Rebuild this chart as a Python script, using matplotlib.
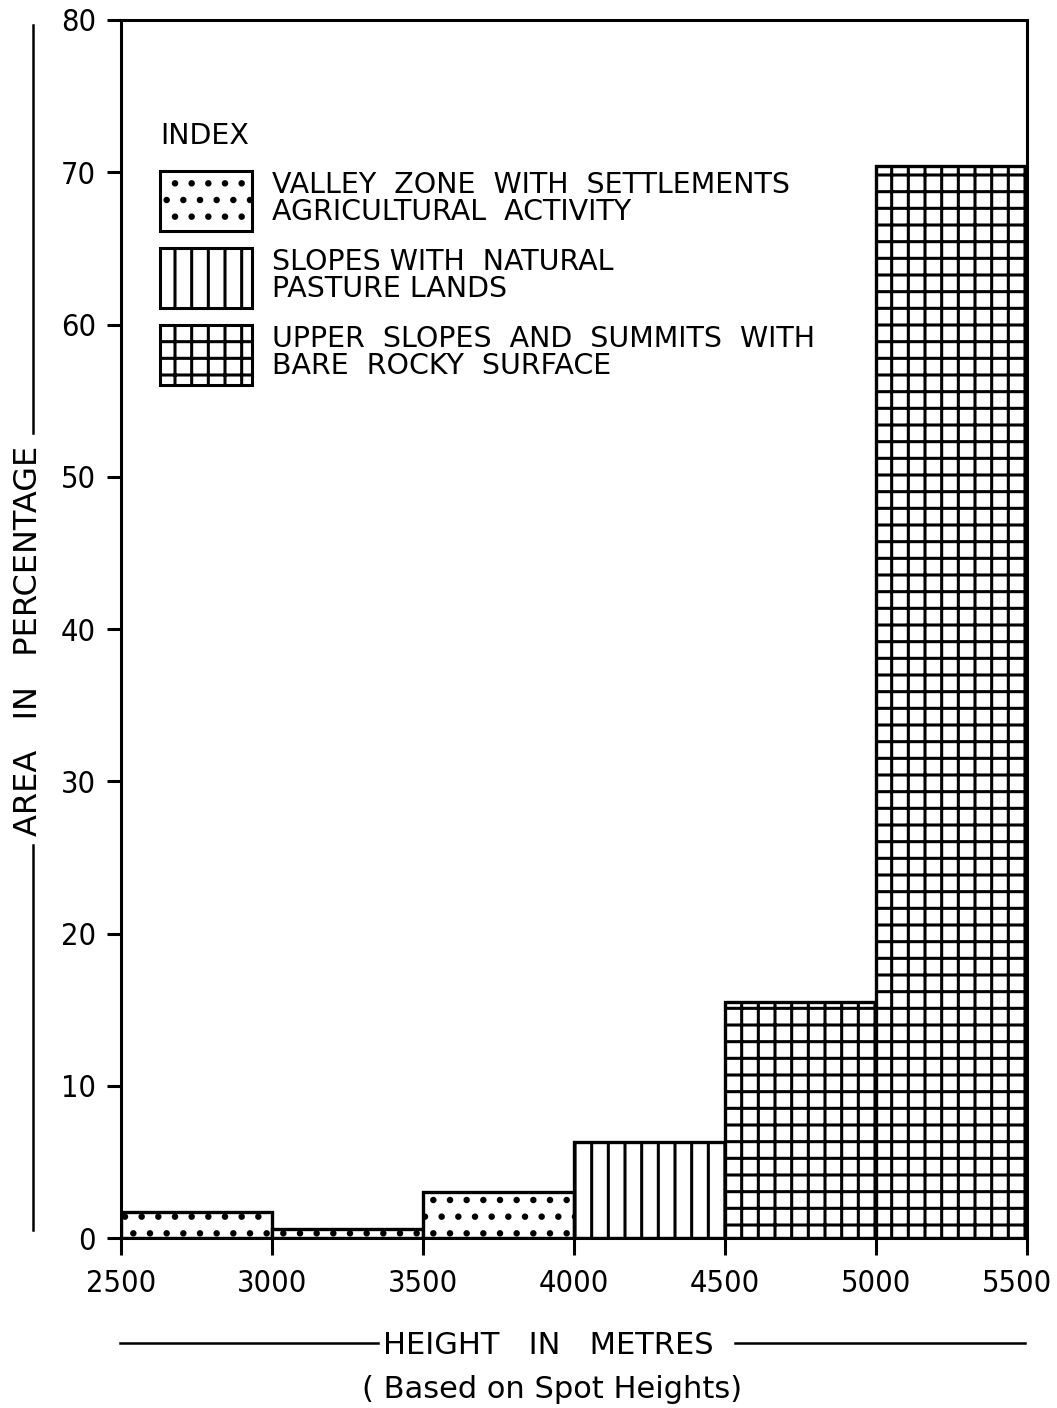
import numpy as np
import matplotlib.pyplot as plt
from matplotlib.patches import Patch
from matplotlib.lines import Line2D
import matplotlib.transforms as mtransforms

# height classes (left edge of each 500 m band) and area share in percent
band_start = [2500, 3000, 3500, 4000, 4500, 5000]
area_pct = [1.7, 0.6, 3.0, 6.3, 15.5, 70.4]
zone = ["valley", "valley", "valley", "slope", "upper", "upper"]

zone_labels = {
    "valley": "VALLEY  ZONE  WITH  SETTLEMENTS\nAGRICULTURAL  ACTIVITY",
    "slope": "SLOPES WITH  NATURAL\nPASTURE LANDS",
    "upper": "UPPER  SLOPES  AND  SUMMITS  WITH\nBARE  ROCKY  SURFACE",
}
zone_hatch = {"valley": ".", "slope": "|", "upper": "+"}

xticks = [2500, 3000, 3500, 4000, 4500, 5000, 5500]
yticks = [0, 10, 20, 30, 40, 50, 60, 70, 80]

plt.rcParams["font.family"] = ["DejaVu Sans"]
plt.rcParams["hatch.linewidth"] = 2.2
plt.rcParams["hatch.color"] = "black"

fig = plt.figure(figsize=(10.57, 14.08), dpi=100)
ax = fig.add_axes([0.1145, 0.1207, 0.857, 0.8651])

for x, h, z in zip(band_start, area_pct, zone):
    ax.bar(x, h, width=500, align="edge", facecolor="white",
           edgecolor="black", linewidth=2.4, hatch=zone_hatch[z])

ax.set_xlim(2500, 5500)
ax.set_ylim(0, 80)
ax.set_xticks(xticks)
ax.set_yticks(yticks)
ax.tick_params(axis="both", direction="out", width=2.2, labelsize=22)
ax.tick_params(axis="x", length=12, pad=10)
ax.tick_params(axis="y", length=10, pad=8)
for s in ax.spines.values():
    s.set_linewidth(2.2)
for lbl in ax.get_xticklabels() + ax.get_yticklabels():
    lbl.set_fontstretch("condensed")
# last x label sits a little left of its tick, as in the original
last = ax.get_xticklabels()[-1]
last.set_transform(last.get_transform() +
                   mtransforms.ScaledTranslation(-10 / 100, 0, fig.dpi_scale_trans))

# legend ("INDEX")
ax.text(0.043, 0.916, "INDEX", transform=ax.transAxes, fontsize=20.5,
        ha="left", va="top")
handles = [Patch(facecolor="white", edgecolor="black", linewidth=2.2,
                 hatch=zone_hatch[k], label=zone_labels[k])
           for k in ["valley", "slope", "upper"]]
leg = ax.legend(handles=handles, loc="upper left", bbox_to_anchor=(0.043, 0.876),
                frameon=False, fontsize=20.5, handlelength=3.23, handleheight=2.85,
                handletextpad=0.7, labelspacing=0.6, borderpad=0,
                borderaxespad=0)
for t in leg.get_texts():
    t.set_linespacing(0.95)

# y-axis caption with lines either side
fig.text(0.0265, 1 - 641 / 1408, "AREA   IN   PERCENTAGE", rotation=90,
         fontsize=23, ha="center", va="center")
fig.add_artist(Line2D([0.031, 0.031], [1 - 25 / 1408, 1 - 433 / 1408],
                      color="black", lw=1.8))
fig.add_artist(Line2D([0.031, 0.031], [1 - 845 / 1408, 1 - 1230 / 1408],
                      color="black", lw=1.8))

# x-axis caption with lines either side
fig.text(0.519, 1 - 1345 / 1408, "HEIGHT   IN   METRES", fontsize=22,
         ha="center", va="center")
fig.add_artist(Line2D([120 / 1057, 378 / 1057], [1 - 1343 / 1408] * 2,
                      color="black", lw=1.8))
fig.add_artist(Line2D([735 / 1057, 1025 / 1057], [1 - 1343 / 1408] * 2,
                      color="black", lw=1.8))
fig.text(0.522, 1 - 1390 / 1408, "( Based on Spot Heights)", fontsize=22,
         ha="center", va="center")

fig.savefig("out.png", dpi=100)
